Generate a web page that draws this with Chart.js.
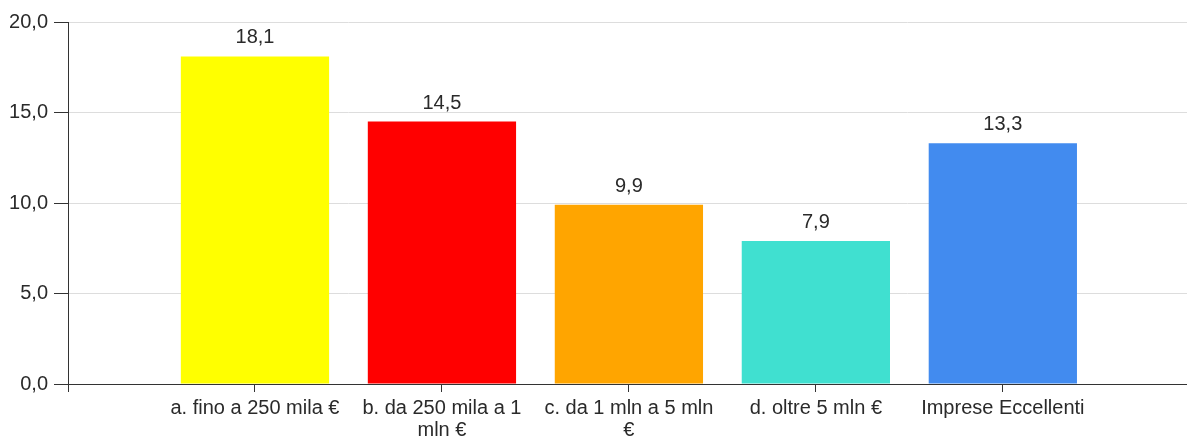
<!DOCTYPE html>
<html>
<head>
<meta charset="utf-8">
<script src="https://cdn.jsdelivr.net/npm/chart.js@4"></script>
<style>
  html, body { margin: 0; padding: 0; background: #fff; }
  #wrap { width: 1187px; height: 441px; }
</style>
</head>
<body>
<div id="wrap"><canvas id="barChart"></canvas></div>
<script>
// categorie (etichette su più righe dove il grafico va a capo)
const categories = [
    'a. fino a 250 mila €',
    ['b. da 250 mila a 1', 'mln €'],
    ['c. da 1 mln a 5 mln', '€'],
    'd. oltre 5 mln €',
    'Imprese Eccellenti'
];
const values = [18.1, 14.5, 9.9, 7.9, 13.3];
const barColors = ['#ffff00', '#ff0000', '#ffa500', '#40e0d0', '#428bef'];
const yTicks = [0, 5, 10, 15, 20];

const FONT = 'Arial, "Liberation Sans", sans-serif';
const fmt = v => v.toFixed(1).replace('.', ',');

// posizioni 1..5 su un asse 0..~6, con spazio vuoto ai bordi come nell'originale
const points = values.map((v, i) => ({ x: i + 1, y: v }));

// Etichette valore sopra le barre
const valueLabels = {
    id: 'valueLabels',
    afterDatasetsDraw(chart) {
        const ctx = chart.ctx;
        const meta = chart.getDatasetMeta(0);
        ctx.save();
        ctx.font = '20px ' + FONT;
        ctx.fillStyle = '#2a2a2a';
        ctx.textAlign = 'center';
        ctx.textBaseline = 'alphabetic';
        meta.data.forEach((bar, i) => {
            ctx.fillText(fmt(values[i]), bar.x, bar.y - 13);
        });
        ctx.restore();
    }
};

document.addEventListener('DOMContentLoaded', () => {
    const ctx = document.getElementById('barChart');
    new Chart(ctx, {
        type: 'bar',
        data: {
            datasets: [{
                data: points,
                backgroundColor: barColors,
                borderWidth: 0,
                barPercentage: 0.793,
                categoryPercentage: 1
            }]
        },
        options: {
            responsive: true,
            maintainAspectRatio: false,
            animation: false,
            layout: { padding: { top: 22, right: 0, left: 0, bottom: 0 } },
            plugins: {
                legend: { display: false },
                tooltip: { enabled: false }
            },
            scales: {
                x: {
                    type: 'linear',
                    offset: false,
                    min: 0,
                    max: 5.985,
                    afterBuildTicks: s => {
                        s.ticks = [0, 1, 2, 3, 4, 5].map(v => ({ value: v }));
                    },
                    grid: {
                        offset: false,
                        drawOnChartArea: false,
                        drawTicks: true,
                        tickLength: 8,
                        tickColor: '#333'
                    },
                    border: { color: '#333', width: 1 },
                    ticks: {
                        color: '#2a2a2a',
                        font: { family: FONT, size: 20, lineHeight: 1.08 },
                        padding: 6,
                        maxRotation: 0,
                        autoSkip: false,
                        callback: v => (v >= 1 && v <= categories.length) ? categories[v - 1] : ''
                    },
                    afterFit: s => { s.height = 57; }
                },
                y: {
                    min: 0,
                    max: 20,
                    afterBuildTicks: s => { s.ticks = yTicks.map(v => ({ value: v })); },
                    grid: {
                        color: '#dddddd',
                        tickColor: '#333',
                        tickLength: 14,
                        drawTicks: true
                    },
                    border: { color: '#333', width: 1 },
                    ticks: {
                        color: '#2a2a2a',
                        font: { family: FONT, size: 20 },
                        padding: 6,
                        callback: v => fmt(v)
                    },
                    afterFit: s => { s.width = 68; }
                }
            }
        },
        plugins: [valueLabels]
    });
});
</script>
</body>
</html>
